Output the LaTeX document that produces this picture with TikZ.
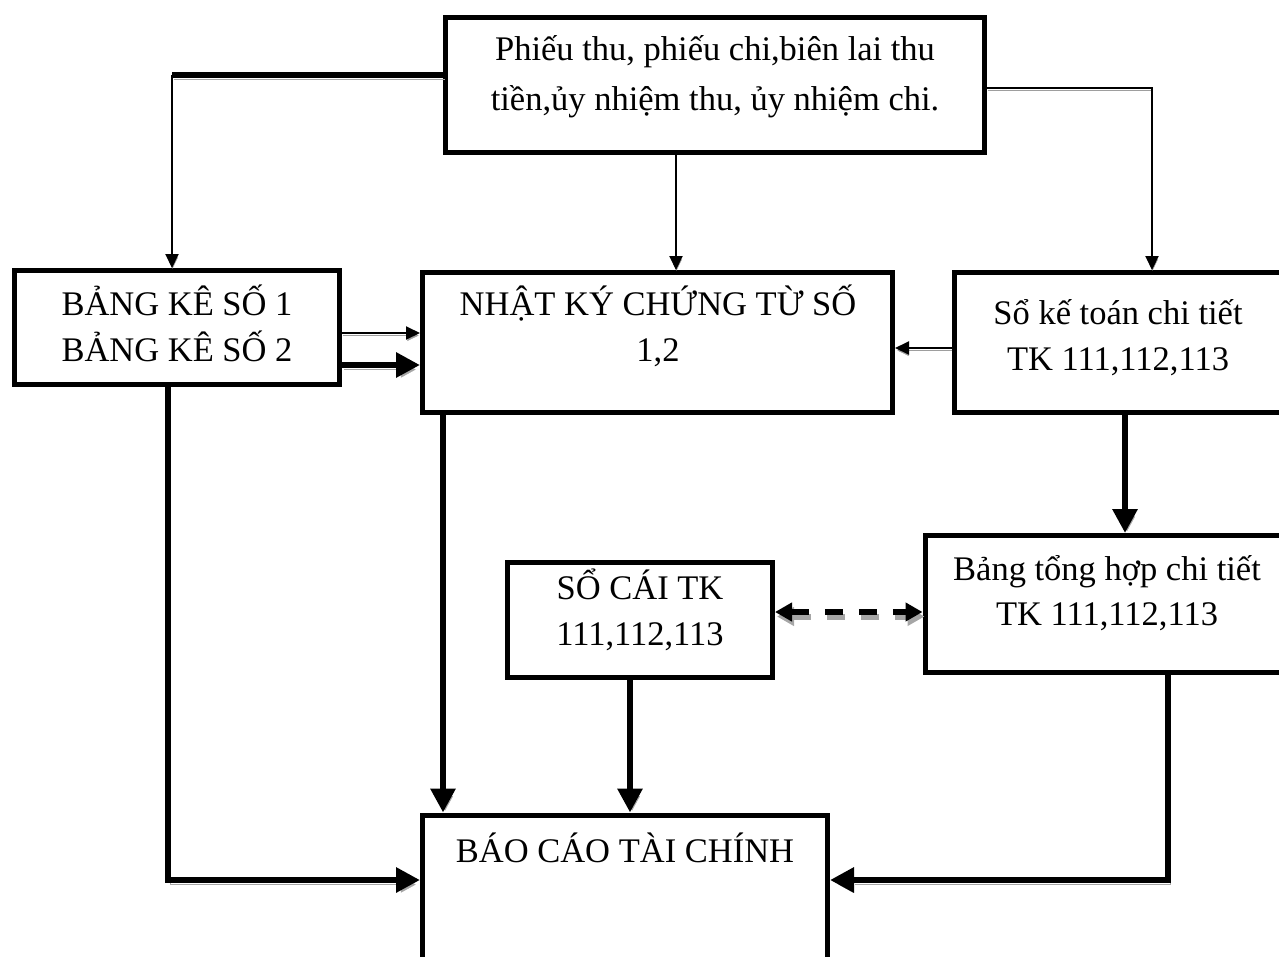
\documentclass[tikz,border=0pt]{standalone}
\usepackage{fontspec}
\setmainfont{Liberation Serif}
\usetikzlibrary{arrows.meta}
\begin{document}
\begin{tikzpicture}[x=1pt,y=-1pt]
\tikzset{
  box/.style={draw, line width=5pt, rectangle, inner sep=0pt, fill=white},
  lbl/.style={anchor=base, inner sep=0pt, font=\fontsize{34.5}{46}\selectfont},
  softshade/.style={preaction={draw=black!38, transform canvas={shift={(0.5,2.5)}}}},
  shade/.style={preaction={draw=black!35, transform canvas={shift={(2,4.5)}}}},
  thinline/.style={line width=2pt, softshade},
  heavyline/.style={line width=6pt, shade},
  thinarrow/.style={thinline, -{Triangle[length=14pt,width=13pt]}},
  bigarrow/.style={heavyline, -{Triangle[length=24pt,width=24pt]}},
  dasharrow/.style={line width=6pt, dash pattern=on 18pt off 16pt,
    {Triangle[length=17pt,width=18pt]}-{Triangle[length=17pt,width=18pt]},
    preaction={draw=black!35, line width=6pt, dash pattern=on 18pt off 16pt,
      transform canvas={shift={(2,4.5)}}}}
}
\useasboundingbox (0,0) rectangle (1279,956);
\clip (0,0) rectangle (1279,956);

% boxes
\node[box, minimum width=539pt, minimum height=135pt] (top) at (715,85) {};
\node[box, minimum width=325pt, minimum height=114pt] (bk) at (177,327.5) {};
\node[box, minimum width=470pt, minimum height=140pt] (nk) at (657.5,342.5) {};
\node[box, minimum width=340pt, minimum height=140pt] (sk) at (1124,342.5) {};
\node[box, minimum width=265pt, minimum height=115pt] (sc) at (640,620) {};
\node[box, minimum width=370pt, minimum height=137pt] (bth) at (1110,604) {};
\node[box, minimum width=405pt, minimum height=160pt] (bc) at (625,895) {};

% labels
\node[lbl] (top1) at (715,60) {Phiếu thu, phiếu chi,biên lai thu};
\node[lbl] (top2) at (715,110) {tiền,ủy nhiệm thu, ủy nhiệm chi.};
\node[lbl] (bk1) at (177,315) {BẢNG KÊ SỐ 1};
\node[lbl] (bk2) at (177,361) {BẢNG KÊ SỐ 2};
\node[lbl] (nk1) at (658,315) {NHẬT KÝ CHỨNG TỪ SỐ};
\node[lbl] (nk2) at (658,361) {1,2};
\node[lbl] (sk1) at (1118,324) {Sổ kế toán chi tiết};
\node[lbl] (sk2) at (1118,370) {TK 111,112,113};
\node[lbl] (sc1) at (640,599) {SỔ CÁI TK};
\node[lbl] (sc2) at (640,645) {111,112,113};
\node[lbl] (bth1) at (1107,580) {Bảng tổng hợp chi tiết};
\node[lbl] (bth2) at (1107,625) {TK 111,112,113};
\node[lbl] (bc1) at (625,862) {BÁO CÁO TÀI CHÍNH};

% bend points
\coordinate (tl) at (172,75);
\coordinate (tr) at (1152,88);
\coordinate (bl) at (168,880);
\coordinate (br) at (1168,880);

% connectors from the source documents
\draw[heavyline] (tl -| top.west) -- (tl);
\draw[thinarrow] (tl) -- (tl |- bk.north);
\draw[thinarrow] (top.south -| 676,0) -- (nk.north -| 676,0);
\draw[thinarrow] (tr -| top.east) -- (tr) -- (tr |- sk.north);

% into the journal
\draw[thinarrow] (bk.east |- 0,333) -- (nk.west |- 0,333);
\draw[bigarrow] (bk.east |- 0,365) -- (nk.west |- 0,365);
\draw[thinarrow] (sk.west |- 0,348) -- (nk.east |- 0,348);

% detail ledger to summary, ledger comparison
\draw[bigarrow] (sk.south -| 1125,0) -- (bth.north -| 1125,0);
\draw[dasharrow] (sc.east |- 0,612) -- (bth.west |- 0,612);

% into the financial report
\draw[bigarrow] (nk.south -| 443,0) -- (bc.north -| 443,0);
\draw[bigarrow] (sc.south -| 630,0) -- (bc.north -| 630,0);
\draw[bigarrow] (bk.south -| bl) -- (bl) -- (bl -| bc.west);
\draw[bigarrow] (bth.south -| br) -- (br) -- (br -| bc.east);
\end{tikzpicture}
\end{document}
